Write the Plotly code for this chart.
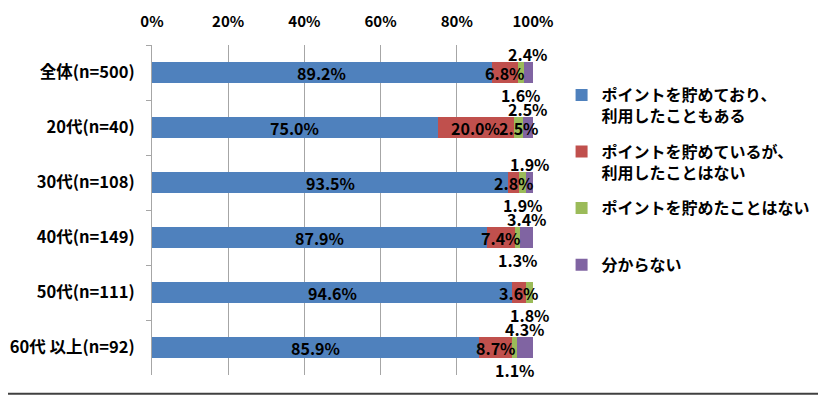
import plotly.graph_objects as go

categories = ["全体(n=500)", "20代(n=40)", "30代(n=108)", "40代(n=149)", "50代(n=111)", "60代 以上(n=92)"]
series_names = ["ポイントを貯めており、<br>利用したこともある",
                "ポイントを貯めているが、<br>利用したことはない",
                "ポイントを貯めたことはない<br> ",
                "分からない<br> "]
used = [89.2, 75.0, 93.5, 87.9, 94.6, 85.9]
not_used = [6.8, 20.0, 2.8, 7.4, 3.6, 8.7]
never = [1.6, 2.5, 1.9, 1.3, 1.8, 1.1]
unknown = [2.4, 2.5, 1.9, 3.4, 0.0, 4.3]
# where the green label sits: "in" inside the bar, "below" under it
never_label_pos = ["below", "in", "below", "below", "below", "below"]
tick_vals = [0, 20, 40, 60, 80, 100]
tick_text = ["0%", "20%", "40%", "60%", "80%", "100%"]

colors = ["#4F81BD", "#C0504D", "#9BBB59", "#8064A2"]
series = [used, not_used, never, unknown]
FONT = "Noto Sans CJK JP"

fig = go.Figure()
for i, (name, vals) in enumerate(zip(series_names, series)):
    fig.add_trace(go.Bar(
        y=categories, x=vals, orientation="h", name=name,
        marker=dict(color=colors[i], line=dict(width=0)),
        legendgroup=f"g{i}", hoverinfo="skip",
    ))

ann = []
lab_font = dict(family=FONT, size=16, color="#000000", weight="bold")
for j, cat in enumerate(categories):
    b = used[j]; r = not_used[j]; g = never[j]; p = unknown[j]
    ann.append(dict(x=b / 2, y=cat, text=f"{b:.1f}%", showarrow=False, font=lab_font))
    ann.append(dict(x=b + r / 2, y=cat, text=f"{r:.1f}%", showarrow=False, font=lab_font))
    if g > 0:
        ann.append(dict(x=b + r + g / 2, y=cat, text=f"{g:.1f}%", showarrow=False, font=lab_font,
                        yshift=0 if never_label_pos[j] == "in" else -22))
    if p > 0:
        ann.append(dict(x=b + r + g + p / 2, y=cat, text=f"{p:.1f}%", showarrow=False, font=lab_font,
                        yshift=19))

fig.update_layout(
    width=826, height=396,
    margin=dict(l=144, r=301, t=37, b=29, autoexpand=False),
    barmode="stack", bargap=0.62,
    plot_bgcolor="white", paper_bgcolor="white",
    font=dict(family=FONT, size=15, color="#000000"),
    annotations=ann,
    legend=dict(x=1.075, y=0.9, xanchor="left", yanchor="top", traceorder="grouped",
                valign="top", tracegroupgap=12,
                font=dict(family=FONT, size=16, color="#000000", weight="bold"),
                bgcolor="rgba(0,0,0,0)"),
    showlegend=True,
    shapes=[dict(type="line", xref="paper", yref="paper", x0=-0.38, x1=1.8, y0=-0.057, y1=-0.057,
                 line=dict(color="#404040", width=2))],
)
fig.update_xaxes(side="top", range=[0, 100], tickvals=tick_vals, ticktext=tick_text,
                 showgrid=True, gridcolor="#A6A6A6", gridwidth=1, zeroline=False,
                 showline=False, ticks="", ticklabelstandoff=14, automargin=False,
                 tickfont=dict(family=FONT, size=15, color="#000000", weight="bold"))
fig.update_yaxes(range=[len(categories) - 0.5, -0.5], showline=True, linecolor="#A6A6A6", linewidth=1,
                 ticks="outside", tickson="boundaries", ticklen=5, tickcolor="#A6A6A6",
                 ticklabelstandoff=13, showgrid=False, automargin=False,
                 tickfont=dict(family=FONT, size=16.5, color="#000000", weight="bold"))

fig.write_html("out.html")
